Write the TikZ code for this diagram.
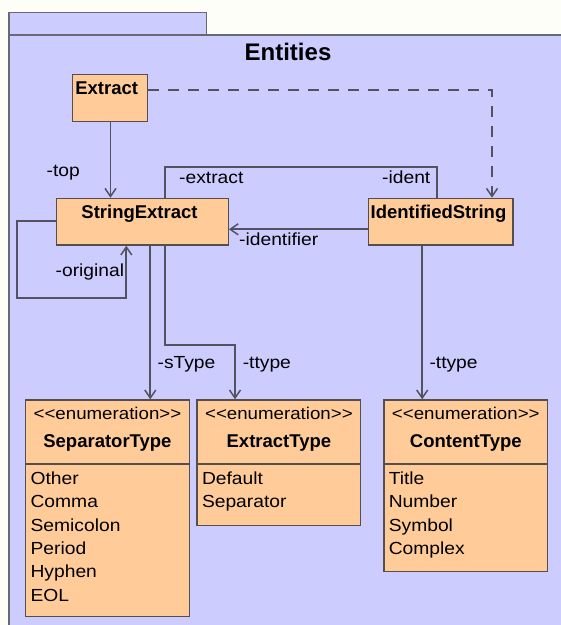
\documentclass[tikz,border=0pt]{standalone}
\usepackage{fontspec}
\setmainfont{Liberation Sans}
\newfontfamily\lblfont{Liberation Sans}[FakeStretch=1.1]
\usetikzlibrary{arrows.meta,calc}

\definecolor{paper}{RGB}{254,254,248}
\definecolor{lavender}{RGB}{204,204,255}
\definecolor{peach}{RGB}{255,204,153}
\definecolor{boxline}{RGB}{85,78,78}
\definecolor{pkgline}{RGB}{105,105,118}
\definecolor{wire}{RGB}{82,82,96}

\tikzset{
  umlbox/.style={draw=boxline, fill=peach, line width=1.4pt, inner sep=0pt,
                 anchor=north west},
  wirebase/.style={draw=wire, line width=1.7pt},
  assoc/.style={wirebase, -{Straight Barb[length=8pt,width=11pt,line width=1.5pt]}},
  plainwire/.style={wirebase},
  depwire/.style={wirebase, dash pattern=on 11pt off 9pt,
                  -{Straight Barb[length=8pt,width=11pt,line width=1.5pt]}},
  lbl/.style={font=\lblfont\fontsize{17.5}{20}\selectfont, inner sep=0pt,
              anchor=west, text height=12.5pt, text depth=3.5pt},
  cname/.style={font=\bfseries\fontsize{18.5}{21}\selectfont, inner sep=0pt,
                text height=13pt, text depth=4pt},
  stereo/.style={font=\lblfont\fontsize{17}{20}\selectfont, inner sep=0pt,
                 text height=12.5pt, text depth=3.5pt},
  item/.style={font=\lblfont\fontsize{17.5}{20}\selectfont, inner sep=0pt,
               anchor=west, text height=12.5pt, text depth=3.5pt},
}

\begin{document}
\begin{tikzpicture}[x=1pt, y=-1pt]
\useasboundingbox (0,0) rectangle (561,625);
\clip (0,0) rectangle (561,625);

% page and package frame
\fill[paper] (0,0) rectangle (561,625);
\draw[draw=pkgline, fill=lavender, line width=1.5pt] (9,12.7) rectangle (206.4,35);
\draw[draw=pkgline, fill=lavender, line width=1.5pt] (9,35) rectangle (580,650);
\node[font=\bfseries\fontsize{24}{28}\selectfont, inner sep=0pt] (title) at (288,51.7) {Entities};

% classes
\node[umlbox, minimum width=75.1pt, minimum height=46.7pt] (ex) at (71.6,74) {};
\node[cname, anchor=west] (exname) at (75.1,90) {Extract};

\node[umlbox, minimum width=171.5pt, minimum height=46.6pt] (se) at (56,197.7) {};
\node[cname] (sename) at (139.5,214.3) {StringExtract};

\node[umlbox, minimum width=144.5pt, minimum height=46.6pt] (is) at (367.8,197.7) {};
\node[cname] (isname) at (438.5,214.3) {IdentifiedString};

% enumerations
\node[umlbox, minimum width=163.5pt, minimum height=216.7pt] (st) at (25,399.3) {};
\node[stereo] (stster) at ($(st.north)+(0,15.7)$) {<<enumeration>>};
\node[cname] (stname) at ($(st.north)+(0,44)$) {SeparatorType};
\draw[draw=boxline, line width=1.4pt] ($(st.north west)+(0,64.7)$) -- ($(st.north east)+(0,64.7)$);
\node[item] (st1) at ($(st.north west)+(5.4,80.7)$) {Other};
\node[item] (st2) at ($(st.north west)+(5.4,104)$) {Comma};
\node[item] (st3) at ($(st.north west)+(5.4,127.4)$) {Semicolon};
\node[item] (st4) at ($(st.north west)+(5.4,150.7)$) {Period};
\node[item] (st5) at ($(st.north west)+(5.4,174)$) {Hyphen};
\node[item] (st6) at ($(st.north west)+(5.4,197.4)$) {EOL};

\node[umlbox, minimum width=163.6pt, minimum height=125.4pt] (et) at (196.4,399.3) {};
\node[stereo] (etster) at ($(et.north)+(0,15.7)$) {<<enumeration>>};
\node[cname] (etname) at ($(et.north)+(0,44)$) {ExtractType};
\draw[draw=boxline, line width=1.4pt] ($(et.north west)+(0,64.7)$) -- ($(et.north east)+(0,64.7)$);
\node[item] (et1) at ($(et.north west)+(5.4,80.7)$) {Default};
\node[item] (et2) at ($(et.north west)+(5.4,104)$) {Separator};

\node[umlbox, minimum width=163.8pt, minimum height=171.7pt] (ct) at (383.2,399.3) {};
\node[stereo] (ctster) at ($(ct.north)+(0,15.7)$) {<<enumeration>>};
\node[cname] (ctname) at ($(ct.north)+(0,44)$) {ContentType};
\draw[draw=boxline, line width=1.4pt] ($(ct.north west)+(0,64.7)$) -- ($(ct.north east)+(0,64.7)$);
\node[item] (ct1) at ($(ct.north west)+(5.4,80.7)$) {Title};
\node[item] (ct2) at ($(ct.north west)+(5.4,104)$) {Number};
\node[item] (ct3) at ($(ct.north west)+(5.4,127.4)$) {Symbol};
\node[item] (ct4) at ($(ct.north west)+(5.4,150.7)$) {Complex};

% bend points of the connectors
\coordinate (topx) at (110.5,0);
\coordinate (dk) at (492,90);
\coordinate (xl) at (165.3,166.7);
\coordinate (xr) at (437.2,166.7);
\coordinate (idy) at (0,229.3);
\coordinate (lp1) at (17.2,221);
\coordinate (lp2) at (126.3,298.3);
\coordinate (sx) at (150.3,0);
\coordinate (t1) at (165.3,345);
\coordinate (t2) at (235,345);
\coordinate (cx) at (422.2,0);

% connectors
\draw[assoc] (topx |- ex.south) -- (topx |- se.north);
\draw[depwire] (ex.east |- dk) -- (dk) -- (dk |- is.north);
\draw[plainwire] (xl |- se.north) -- (xl) -- (xr) -- (xr |- is.north);
\draw[assoc] (is.west |- idy) -- (se.east |- idy);
\draw[assoc] (se.west |- lp1) -- (lp1) -- (lp1 |- lp2) -- (lp2) -- (lp2 |- se.south);
\draw[assoc] (sx |- se.south) -- (sx |- st.north);
\draw[assoc] (t1 |- se.south) -- (t1) -- (t2) -- (t2 |- et.north);
\draw[assoc] (cx |- is.south) -- (cx |- ct.north);

% role names
\node[lbl] (ltop) at (46.5,171.7) {-top};
\node[lbl] (lextract) at (179,179) {-extract};
\node[lbl] (lident) at (382,179) {-ident};
\node[lbl] (lidentifier) at (239,241) {-identifier};
\node[lbl] (loriginal) at (55.5,271.7) {-original};
\node[lbl] (lstype) at (157.4,364.3) {-sType};
\node[lbl] (lttype) at (242.6,364.3) {-ttype};
\node[lbl] (lctype) at (429.3,364.3) {-ttype};
\end{tikzpicture}
\end{document}
